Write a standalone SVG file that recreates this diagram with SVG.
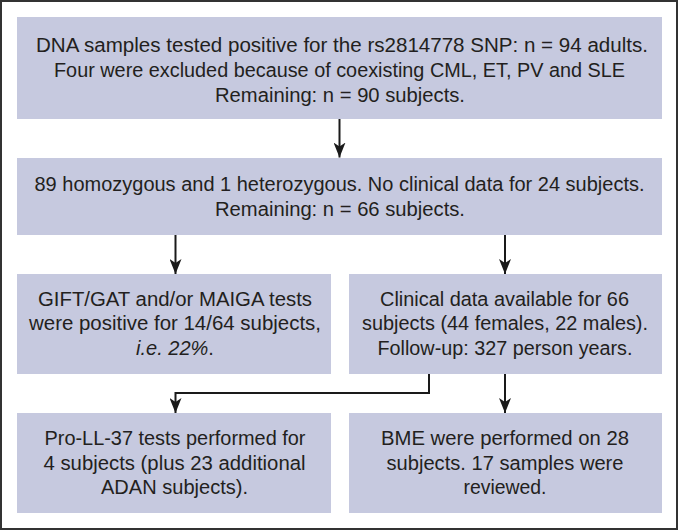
<svg xmlns="http://www.w3.org/2000/svg" width="679" height="531" viewBox="0 0 679 531">
<style>
.box{fill:#c6c9df;}
.t{font-family:"Liberation Sans",Arial,sans-serif;font-size:20px;fill:#231f20;text-anchor:middle;}
.c{fill:none;stroke:#1a1a1a;stroke-width:2;}
</style>
<defs>
<marker id="ah" markerUnits="userSpaceOnUse" viewBox="0 0 15 12" refX="15" refY="6" markerWidth="15" markerHeight="12" orient="auto">
<path d="M0,0 L15,6 L0,12 L4,6 z" fill="#1a1a1a"/>
</marker>
</defs>
<rect x="1" y="1" width="676" height="528" fill="#ffffff" stroke="#333333" stroke-width="2"/>
<g id="n1">
<rect class="box" x="17" y="17" width="645" height="102"/>
<text class="t" x="342" y="52" textLength="612" lengthAdjust="spacingAndGlyphs">DNA samples tested positive for the rs2814778 SNP: n = 94 adults.</text>
<text class="t" x="339.5" y="77" textLength="571" lengthAdjust="spacingAndGlyphs">Four were excluded because of coexisting CML, ET, PV and SLE</text>
<text class="t" x="340" y="102" textLength="250" lengthAdjust="spacingAndGlyphs">Remaining: n = 90 subjects.</text>
</g>
<g id="n2">
<rect class="box" x="17" y="158" width="645" height="77"/>
<text class="t" x="339.5" y="191" textLength="610" lengthAdjust="spacingAndGlyphs">89 homozygous and 1 heterozygous. No clinical data for 24 subjects.</text>
<text class="t" x="340" y="216" textLength="250" lengthAdjust="spacingAndGlyphs">Remaining: n = 66 subjects.</text>
</g>
<g id="n3">
<rect class="box" x="17" y="274" width="314" height="100"/>
<text class="t" x="175" y="306" textLength="274" lengthAdjust="spacingAndGlyphs">GIFT/GAT and/or MAIGA tests</text>
<text class="t" x="175" y="330" textLength="292" lengthAdjust="spacingAndGlyphs">were positive for 14/64 subjects,</text>
<text class="t" x="175" y="355"><tspan font-style="italic">i.e. 22%</tspan>.</text>
</g>
<g id="n4">
<rect class="box" x="349" y="274" width="313" height="100"/>
<text class="t" x="504.5" y="306" textLength="249" lengthAdjust="spacingAndGlyphs">Clinical data available for 66</text>
<text class="t" x="505" y="330" textLength="286" lengthAdjust="spacingAndGlyphs">subjects (44 females, 22 males).</text>
<text class="t" x="505" y="355" textLength="255" lengthAdjust="spacingAndGlyphs">Follow-up: 327 person years.</text>
</g>
<g id="n5">
<rect class="box" x="17" y="413" width="314" height="100"/>
<text class="t" x="175" y="445" textLength="261" lengthAdjust="spacingAndGlyphs">Pro-LL-37 tests performed for</text>
<text class="t" x="174.5" y="470" textLength="262" lengthAdjust="spacingAndGlyphs">4 subjects (plus 23 additional</text>
<text class="t" x="174.5" y="494" textLength="147" lengthAdjust="spacingAndGlyphs">ADAN subjects).</text>
</g>
<g id="n6">
<rect class="box" x="349" y="413" width="313" height="100"/>
<text class="t" x="505" y="445" textLength="248" lengthAdjust="spacingAndGlyphs">BME were performed on 28</text>
<text class="t" x="505" y="470" textLength="237" lengthAdjust="spacingAndGlyphs">subjects. 17 samples were</text>
<text class="t" x="505" y="494" textLength="83" lengthAdjust="spacingAndGlyphs">reviewed.</text>
</g>
<g id="connectors">
<path class="c" d="M339.5,119 V157.5" marker-end="url(#ah)"/>
<path class="c" d="M175.5,235 V274" marker-end="url(#ah)"/>
<path class="c" d="M505,235 V274" marker-end="url(#ah)"/>
<path class="c" d="M429,374 V393 H175.5 V413" marker-end="url(#ah)"/>
<path class="c" d="M505,374 V413" marker-end="url(#ah)"/>
</g>
</svg>
